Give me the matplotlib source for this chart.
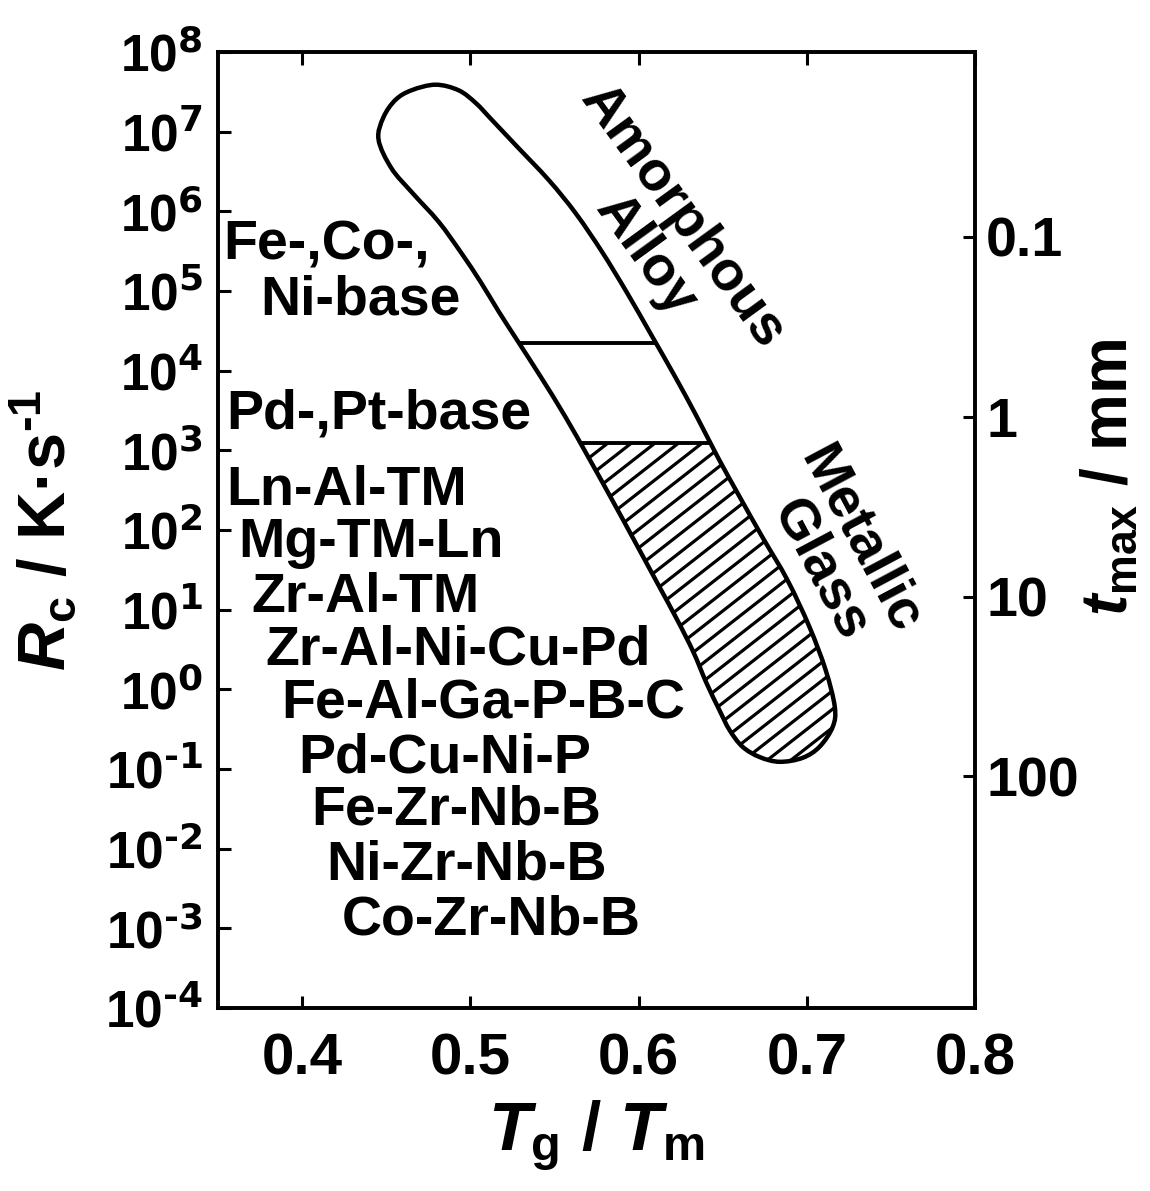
import numpy as np
import matplotlib
matplotlib.use('Agg')
import matplotlib.pyplot as plt
from matplotlib import font_manager
from matplotlib.patches import PathPatch
from matplotlib.path import Path
from matplotlib.collections import LineCollection

# band outline traced clockwise from the left end of the upper cap
band_tg_tm = [
    0.4454, 0.4483, 0.4555, 0.4650, 0.4793, 0.4930, 0.5032, 0.5127, 0.5270,
    0.5467, 0.5628, 0.5783, 0.5932, 0.6075, 0.6218, 0.6349, 0.6474, 0.6605,
    0.6736, 0.6885, 0.7016, 0.7112, 0.7166, 0.7154, 0.7076, 0.6975, 0.6838,
    0.6719, 0.6617, 0.6540, 0.6480, 0.6403, 0.6325, 0.6230, 0.6111, 0.5979,
    0.5842, 0.5705, 0.5562, 0.5419, 0.5288, 0.5169, 0.5062, 0.4942, 0.4811,
    0.4656, 0.4531,
]
band_log_rc = [
    6.90, 7.18, 7.40, 7.52, 7.59, 7.52, 7.36, 7.15, 6.83,
    6.39, 5.97, 5.49, 4.975, 4.45, 3.92, 3.41, 2.90, 2.40,
    1.91, 1.37, 0.78, 0.24, -0.22, -0.47, -0.72, -0.86, -0.91,
    -0.85, -0.72, -0.51, -0.26, 0.08, 0.47, 0.87, 1.335, 1.85,
    2.38, 2.90, 3.43, 3.92, 4.35, 4.74, 5.11, 5.49, 5.87,
    6.23, 6.54,
]
divider_log_rc = [4.35, 3.09]       # Fe/Co/Ni | Pd/Pt | metallic glass
glass_top_log_rc = 3.09             # hatched part lies below this

alloy_names = [
    'Fe-,Co-,', 'Ni-base', 'Pd-,Pt-base', 'Ln-Al-TM', 'Mg-TM-Ln', 'Zr-Al-TM',
    'Zr-Al-Ni-Cu-Pd', 'Fe-Al-Ga-P-B-C', 'Pd-Cu-Ni-P', 'Fe-Zr-Nb-B',
    'Ni-Zr-Nb-B', 'Co-Zr-Nb-B',
]
# left edge (Tg/Tm) and baseline (log Rc) of each alloy label
alloy_x = [0.353, 0.375, 0.3548, 0.3548, 0.3619, 0.3697, 0.378, 0.3876,
           0.3977, 0.4054, 0.4144, 0.4233]
alloy_y = [5.39, 4.71, 3.28, 2.31, 1.66, 0.97, 0.31, -0.36, -1.04, -1.70,
           -2.39, -3.08]

x_ticks = [0.4, 0.5, 0.6, 0.7, 0.8]
y_exponents = list(range(-4, 9))
t_max_ticks = ['0.1', '1', '10', '100']
t_max_log_rc = [5.68, 3.42, 1.16, -1.09]

available = {f.name for f in font_manager.fontManager.ttflist}
main_font = 'Liberation Sans' if 'Liberation Sans' in available else 'DejaVu Sans'
ytick_prop = font_manager.FontProperties(family=main_font, weight='bold', size=37)

plt.rcParams['font.family'] = [main_font, 'DejaVu Sans']
plt.rcParams['font.weight'] = 'bold'
plt.rcParams['mathtext.fontset'] = 'custom'
plt.rcParams['mathtext.rm'] = f'{main_font}:bold'
plt.rcParams['mathtext.it'] = f'{main_font}:italic:bold'
plt.rcParams['mathtext.bf'] = f'{main_font}:bold'


def smooth_closed(xs, ys):
    # closed cubic path through the traced points (Catmull-Rom handles)
    p = np.column_stack([xs, ys])
    n = len(p)
    verts = [p[0]]
    codes = [Path.MOVETO]
    for i in range(n):
        p0, p1, p2, p3 = p[i - 1], p[i], p[(i + 1) % n], p[(i + 2) % n]
        verts += [p1 + (p2 - p0) / 6, p2 - (p3 - p1) / 6, p2]
        codes += [Path.CURVE4] * 3
    verts = np.array(verts)
    verts[:, 1] = 10.0 ** verts[:, 1]
    return Path(verts, codes)


fig = plt.figure(figsize=(11.5, 11.91), dpi=100)
ax = fig.add_axes([0.1896, 0.1537, 0.6583, 0.8026])
ax.set_yscale('log')
ax.set_xlim(0.35, 0.8)
ax.set_ylim(1e-4, 1e8)

band_path = smooth_closed(band_tg_tm, band_log_rc)
band = PathPatch(band_path, facecolor='white', edgecolor='none', zorder=1)
ax.add_patch(band)

# hatching of the metallic-glass part, clipped to the band
pos = ax.get_position()
W = pos.width * fig.get_figwidth() * fig.dpi
H = pos.height * fig.get_figheight() * fig.dpi
ang = np.deg2rad(38)
gap = 14.5
y_top = (glass_top_log_rc + 4) / 12
step = gap / np.sin(ang) / W
run = y_top * H / np.tan(ang) / W
segs = [[(x0, 0.0), (x0 + run, y_top)] for x0 in np.arange(-1.0, 1.2, step)]
hatch = LineCollection(segs, colors='black', linewidths=2.3,
                       transform=ax.transAxes, zorder=2)
ax.add_collection(hatch)
hatch.set_clip_path(band)

for lrc in divider_log_rc:
    ln, = ax.plot([0.35, 0.8], [10.0 ** lrc] * 2, color='black', lw=2.8, zorder=3)
    ln.set_clip_path(band)

outline = PathPatch(band_path, fill=False, edgecolor='black', lw=3.2, zorder=4)
ax.add_patch(outline)

for name, x, y in zip(alloy_names, alloy_x, alloy_y):
    ax.text(x, 10.0 ** y, name, fontsize=40, fontweight='bold',
            ha='left', va='baseline')

ax.text(0.626, 10 ** 5.93, 'Amorphous', fontsize=40, fontweight='bold',
        rotation=-54, rotation_mode='anchor', ha='center', va='center')
ax.text(0.604, 10 ** 5.45, 'Alloy', fontsize=40, fontweight='bold',
        rotation=-54, rotation_mode='anchor', ha='center', va='center')
ax.text(0.7315, 10 ** 1.875, 'Metallic', fontsize=40, fontweight='bold',
        rotation=-62, rotation_mode='anchor', ha='center', va='center')
ax.text(0.7076, 10 ** 1.50, 'Glass', fontsize=40, fontweight='bold',
        rotation=-62, rotation_mode='anchor', ha='center', va='center')

ax.set_xticks(x_ticks, labels=[f'{v:.1f}' for v in x_ticks])
ax.set_yticks([10.0 ** e for e in y_exponents],
              labels=[rf'$\mathregular{{10^{{\text{{{e}}}}}}}$' for e in y_exponents])
ax.yaxis.set_minor_locator(matplotlib.ticker.NullLocator())
ax.tick_params(axis='both', direction='in', length=9, width=2.2, top=True,
               right=False)
ax.tick_params(axis='x', pad=18, labelsize=42)
ax.tick_params(axis='y', pad=11)
for lab in ax.get_yticklabels():
    lab.set_fontproperties(ytick_prop)

ax.set_xlabel(r'$T_{\mathrm{g}}$ / $T_{\mathrm{m}}$', fontsize=50,
              fontweight='bold', va='center')
ax.xaxis.set_label_coords(0.5, -0.133)
ax.set_ylabel(r'$R_{\mathrm{c}}$ / K·s$^{\text{-1}}$', fontsize=48,
              fontweight='bold', va='center')
ax.yaxis.set_label_coords(-0.229, 0.5)

ax2 = ax.twinx()
ax2.set_yscale('log')
ax2.set_ylim(ax.get_ylim())
ax2.set_yticks([10.0 ** v for v in t_max_log_rc], labels=t_max_ticks)
ax2.yaxis.set_minor_locator(matplotlib.ticker.NullLocator())
ax2.tick_params(axis='y', direction='in', length=9, width=2.2, pad=8,
                labelsize=40)
ax2.set_ylabel(r'$t_{\mathrm{max}}$ / mm', fontsize=46, fontweight='bold')
ax2.yaxis.label.set_va('center')
ax2.yaxis.set_label_coords(1.178, 0.555)

for a in (ax, ax2):
    for s in a.spines.values():
        s.set_linewidth(2.6)

fig.savefig('out.png', dpi=100)
